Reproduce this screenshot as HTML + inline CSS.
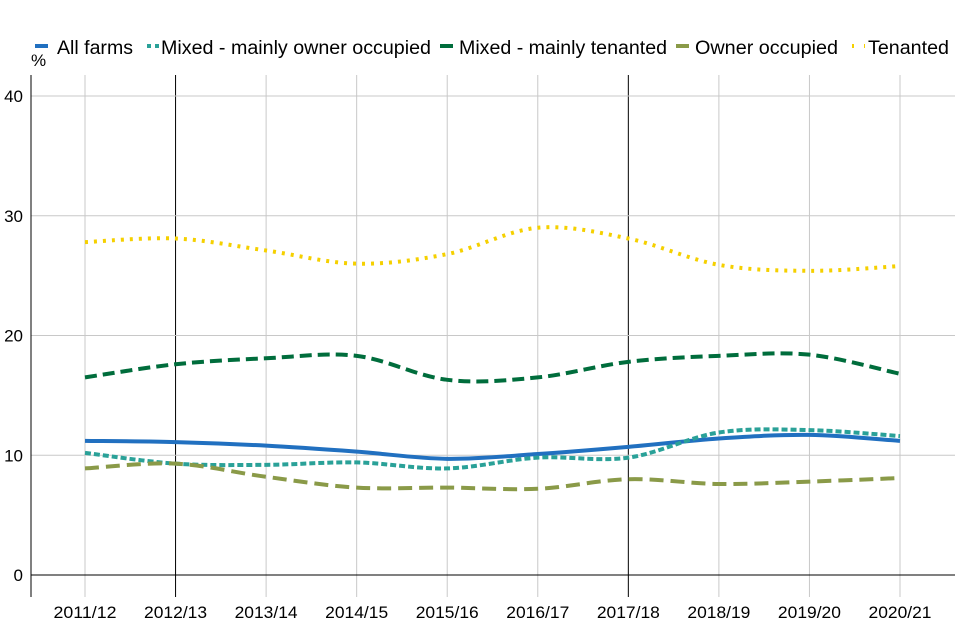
<!DOCTYPE html>
<html><head><meta charset="utf-8"><style>
body{margin:0;background:#fff;}
svg{display:block;font-family:"Liberation Sans",Arial,sans-serif;}
</style></head><body>
<svg id="chart" width="960" height="640"></svg>
<script>
const categories=["2011/12","2012/13","2013/14","2014/15","2015/16","2016/17","2017/18","2018/19","2019/20","2020/21"];
const allFarms=[11.2,11.1,10.8,10.3,9.7,10.1,10.7,11.4,11.7,11.2];
const mixedOwner=[10.2,9.3,9.2,9.4,8.9,9.8,9.8,11.9,12.1,11.6];
const mixedTenanted=[16.5,17.6,18.1,18.3,16.3,16.5,17.8,18.3,18.4,16.8];
const ownerOccupied=[8.9,9.3,8.2,7.3,7.3,7.2,8.0,7.6,7.8,8.1];
const tenanted=[27.8,28.1,27.1,26.0,26.8,29.0,28.1,25.9,25.4,25.8];
const yTicks=[0,10,20,30,40];
const seriesNames=["All farms","Mixed - mainly owner occupied","Mixed - mainly tenanted","Owner occupied","Tenanted"];

const NS="http://www.w3.org/2000/svg";
const svg=document.getElementById('chart');
function el(t,a,p){const e=document.createElementNS(NS,t);for(const k in a)e.setAttribute(k,a[k]);(p||svg).appendChild(e);return e;}
const x=i=>85+i*(900-85)/(categories.length-1);
const y=v=>575-v*(575-96)/40;

categories.forEach((c,i)=>{
 const l=el('line',{x1:x(i),x2:x(i),y1:75,y2:597,stroke:(i==1||i==6)?'#000':'#c8c8c8','stroke-width':1});
 
 
 const t=el('text',{x:x(i),y:618,'text-anchor':'middle','font-size':17,fill:'#000',textLength:63,lengthAdjust:'spacingAndGlyphs'});
 t.textContent=c;
 
 
});
yTicks.forEach(v=>{
 if(v>0){const l=el('line',{x1:31,x2:955,y1:y(v),y2:y(v),stroke:'#c8c8c8','stroke-width':1});
 
 }
 const t=el('text',{x:23,y:y(v)+6,'text-anchor':'end','font-size':17,fill:'#000'});
 t.textContent=v;
 
 
});
const ax=el('line',{x1:31,x2:955,y1:575,y2:575,stroke:'#000','stroke-width':1});


const ay=el('line',{x1:31,x2:31,y1:75,y2:597,stroke:'#000','stroke-width':1});


const yt=el('text',{x:31,y:66,'font-size':17,fill:'#000'});yt.textContent='%';



function path(vals){
 const p=vals.map((v,i)=>[x(i),y(v)]);
 let d=`M${p[0][0]},${p[0][1]}`;
 for(let i=0;i<p.length-1;i++){
  const p0=p[Math.max(i-1,0)],p1=p[i],p2=p[i+1],p3=p[Math.min(i+2,p.length-1)];
  const c1=[p1[0]+(p2[0]-p0[0])/6,p1[1]+(p2[1]-p0[1])/6];
  const c2=[p2[0]-(p3[0]-p1[0])/6,p2[1]-(p3[1]-p1[1])/6];
  d+=` C${c1[0]},${c1[1]} ${c2[0]},${c2[1]} ${p2[0]},${p2[1]}`;
 }
 return d;
}
const styles=[
 {data:allFarms,color:'#2170c0',dash:'',name:'series-all-farms'},
 {data:mixedOwner,color:'#2aa198',dash:'6 3',name:'series-mixed-owner-occupied'},
 {data:mixedTenanted,color:'#006d3c',dash:'12 6',name:'series-mixed-tenanted'},
 {data:ownerOccupied,color:'#8a9a48',dash:'14 7',name:'series-owner-occupied'},
 {data:tenanted,color:'#f5d000',dash:'3 6',name:'series-tenanted'}
];
styles.forEach(s=>{
 const p=el('path',{d:path(s.data),fill:'none',stroke:s.color,'stroke-width':4,'stroke-dasharray':s.dash});
 
 
});
const legX=[35,147,440,676,852];
const legTX=[57,161,459,695,868];
const legW=[76,270,208,143,81];
const legDash=['','4 4','','','2 10'];
styles.forEach((s,i)=>{
 const g=el('g',{});
 
 
 el('line',{x1:legX[i],x2:legX[i]+13,y1:46,y2:46,stroke:s.color,'stroke-width':4,'stroke-dasharray':legDash[i]},g);
 const t=el('text',{x:legTX[i],y:54,'font-size':19,fill:'#000',textLength:legW[i],lengthAdjust:'spacingAndGlyphs'},g);
 t.textContent=seriesNames[i];
});
</script>
</body></html>
